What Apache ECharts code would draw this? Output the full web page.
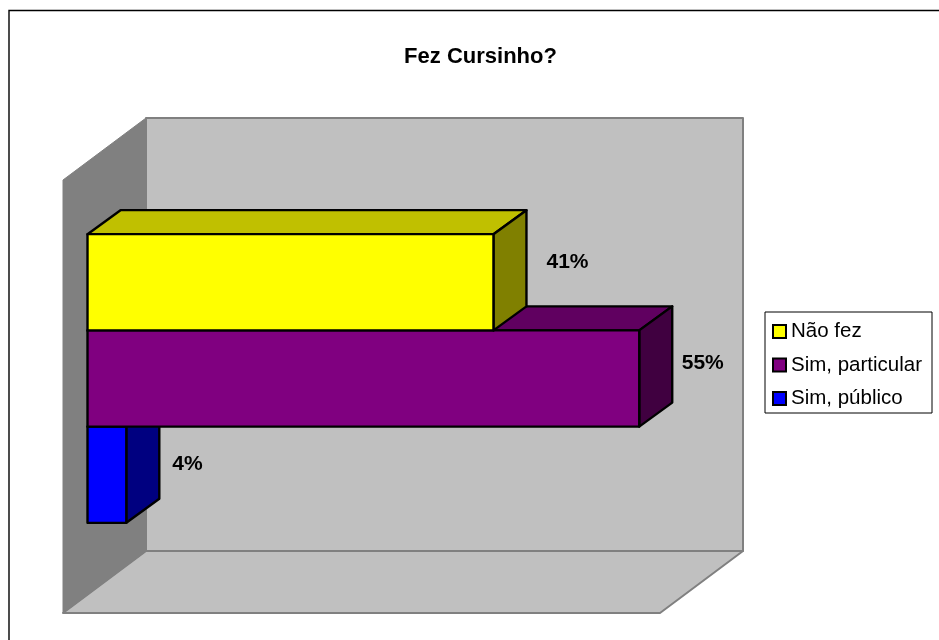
<!DOCTYPE html>
<html>
<head>
<meta charset="utf-8">
<style>
  html, body { margin: 0; padding: 0; background: #fff; }
  #chart { width: 939px; height: 640px; }
</style>
<script src="https://cdn.jsdelivr.net/npm/echarts@6/dist/echarts.min.js"></script>
</head>
<body>
<div id="chart"></div>
<script>
const categories = ['Fez Cursinho?']
const seriesNames = ['Não fez', 'Sim, particular', 'Sim, público']
const naoFez = [40.8]
const simParticular = [55.45]
const simPublico = [3.9]
const seriesValues = [naoFez, simParticular, simPublico]

// front, top, side
const faceColors = [
  ['#ffff00', '#c0c000', '#808000'],
  ['#800080', '#600060', '#400040'],
  ['#0000ff', '#0000c0', '#000080'],
]
const barDepth = [33, -24]
// excel places these labels by hand, offset from the bar's far corner
const labelShift = [[20, -20], [9.5, -15], [13, -11]]
const gridBox = { left: 87.5, top: 162, width: 597, height: 433 }
const font = 'Liberation Sans, Arial, sans-serif'

const poly = (points, fill, stroke, lineWidth) => ({
  type: 'polygon',
  shape: { points },
  style: { fill, stroke, lineWidth, lineJoin: 'round' },
})

const renderWalls = (params, api) => {
  const o = api.coord([0, 0])
  const far = api.coord([api.value(0), 0])
  const band = api.size([0, 1])[1]
  const top = o[1] - band / 2
  const bottom = o[1] + band / 2
  const l = o[0] - 24.5
  const r = far[0] - 24.5
  const [dx, dy] = [83, -62]
  return {
    type: 'group',
    children: [
      poly([[l + dx, top + 18 + dy], [r + dx, top + 18 + dy], [r + dx, bottom + 18 + dy], [l + dx, bottom + 18 + dy]], '#c0c0c0', '#808080', 2),
      poly([[l, bottom + 18], [l + dx, bottom + 18 + dy], [r + dx, bottom + 18 + dy], [r, bottom + 18]], '#c0c0c0', '#808080', 2),
      poly([[l, top + 18], [l + dx, top + 18 + dy], [l + dx, bottom + 18 + dy], [l, bottom + 18]], '#808080', '#808080', 1),
    ],
  }
}

const renderBar = (idx) => (params, api) => {
  const end = api.coord([api.value(0), 0])
  const start = api.coord([0, 0])
  const band = api.size([0, 1])[1]
  const h = band / 4.5
  const y0 = start[1] + (idx - 1.5) * h
  const y1 = y0 + h
  const x0 = start[0]
  const x1 = end[0]
  const [dx, dy] = barDepth
  const c = faceColors[idx]
  return {
    type: 'group',
    children: [
      poly([[x0, y0], [x0 + dx, y0 + dy], [x1 + dx, y0 + dy], [x1, y0]], c[1], '#000', 2.4),
      poly([[x1, y0], [x1 + dx, y0 + dy], [x1 + dx, y1 + dy], [x1, y1]], c[2], '#000', 2.4),
      poly([[x0, y0], [x1, y0], [x1, y1], [x0, y1]], c[0], '#000', 2.4),
      {
        type: 'text',
        style: {
          x: x1 + dx + labelShift[idx][0],
          y: (y0 + y1) / 2 + labelShift[idx][1],
          text: Math.round(api.value(0)) + '%',
          fill: '#000',
          font: 'bold 21px ' + font,
          align: 'left',
          verticalAlign: 'middle',
        },
      },
    ],
  }
}

const chart = echarts.init(document.getElementById('chart'))

const series = [{
  type: 'custom',
  name: 'walls',
  z: 1,
  silent: true,
  coordinateSystem: 'cartesian2d',
  renderItem: renderWalls,
  data: [[60, 0]],
  encode: { x: 0, y: 1 },
}]
seriesNames.forEach((name, i) => {
  series.push({
    type: 'custom',
    name,
    z: 5 - i, // lower bars sit behind the ones above
    coordinateSystem: 'cartesian2d',
    renderItem: renderBar(i),
    data: seriesValues[i].map((v, k) => [v, k]),
    encode: { x: 0, y: 1 },
    itemStyle: { color: faceColors[i][0], borderColor: '#000', borderWidth: 2 },
  })
})

chart.setOption({
  animation: false,
  backgroundColor: '#fff',
  title: {
    text: categories[0],
    left: 475.5,
    top: 41,
    textAlign: 'center',
    textStyle: { fontFamily: font, fontWeight: 'bold', fontSize: 22, color: '#000' },
  },
  grid: gridBox,
  xAxis: { type: 'value', min: 0, max: 60, show: false },
  yAxis: { type: 'category', data: categories, inverse: true, show: false },
  legend: {
    orient: 'vertical',
    left: 765,
    top: 312,
    padding: [9, 10, 4, 7],
    itemGap: 12.5,
    itemWidth: 13,
    itemHeight: 13,
    data: seriesNames.map((name, i) => ({
      name,
      icon: 'rect',
      itemStyle: { color: faceColors[i][0], borderColor: '#000', borderWidth: 2 },
    })),
    selectedMode: false,
    borderColor: '#000',
    borderWidth: 1,
    backgroundColor: '#fff',
    textStyle: { fontFamily: font, fontSize: 20.5, color: '#000', padding: [0, 0, 0, 0] },
  },
  graphic: [{
    type: 'polyline',
    shape: { points: [[9, 640], [9, 10.5], [939, 10.5]] },
    style: { stroke: '#000', lineWidth: 1.4, fill: null },
  }],
  series,
})
</script>
</body>
</html>
